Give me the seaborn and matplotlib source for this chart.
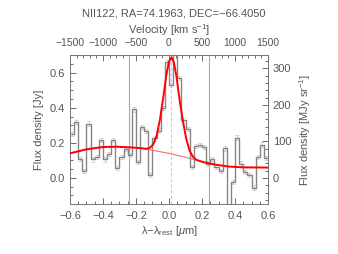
import numpy as np
import matplotlib
matplotlib.use('Agg')
import matplotlib.pyplot as plt
from matplotlib.ticker import MultipleLocator
import seaborn as sns

# spectrum: 48 bins of 0.025 um starting at -0.6 um
wave_start = -0.6
bin_width = 0.025
flux = [0.25, 0.32, 0.11, 0.04, 0.31, 0.105, 0.12, 0.215, 0.105, 0.135,
        0.215, 0.055, 0.12, 0.165, 0.13, 0.39, 0.09, 0.288, 0.268, 0.018,
        0.225, 0.27, 0.397, 0.663, 0.53, 0.76, 0.57, 0.33, 0.28, 0.063,
        0.18, 0.187, 0.175, 0.082, 0.11, 0.063, 0.04, 0.168, -0.22, -0.022,
        0.23, 0.082, 0.034, 0.015, -0.055, 0.12, 0.19, 0.115]
flux_err = [0.012] * len(flux)

# continuum fit (thin red)
cont_x = [-0.6, -0.5, -0.4, -0.32, -0.2, -0.12, 0.0, 0.1, 0.17, 0.24, 0.3, 0.36, 0.45, 0.6]
cont_y = [0.140, 0.163, 0.176, 0.178, 0.172, 0.161, 0.140, 0.118, 0.099, 0.083, 0.073, 0.065, 0.060, 0.059]

# continuum + line fit (thick red)
model_x = [-0.6, -0.5, -0.4, -0.32, -0.2, -0.135, -0.115, -0.095, -0.075, -0.055,
           -0.035, -0.015, 0.0, 0.015, 0.03, 0.045, 0.065, 0.085, 0.105, 0.125,
           0.145, 0.165, 0.2, 0.24, 0.3, 0.36, 0.45, 0.6]
model_y = [0.140, 0.163, 0.176, 0.178, 0.172, 0.166, 0.172, 0.192, 0.241, 0.331,
           0.458, 0.592, 0.663, 0.688, 0.657, 0.580, 0.439, 0.32, 0.22, 0.155,
           0.12, 0.104, 0.092, 0.083, 0.073, 0.065, 0.060, 0.059]

line_center = 0.012
window = [-0.243, 0.24]

title = 'NII122, RA=74.1963, DEC=\u221266.4050'

sns.set_style('ticks')
plt.rcParams['font.family'] = ['Liberation Sans', 'DejaVu Sans']
plt.rcParams['mathtext.fontset'] = 'custom'
plt.rcParams['mathtext.rm'] = 'Liberation Sans'
plt.rcParams['mathtext.it'] = 'Liberation Sans:italic'

txt = '#555555'
fs = 8

fig = plt.figure(figsize=(3.38, 2.54), dpi=100)
ax = fig.add_axes([0.207, 0.196, 0.586, 0.587])

edges = wave_start + bin_width * np.arange(len(flux) + 1)
centers = edges[:-1] + bin_width / 2
step_x = edges
step_y = flux + [flux[-1]]

for w in window:
    ax.axvline(w, color='#a8a8a8', lw=0.8, zorder=1)
ax.axvline(line_center, color='#cccccc', lw=0.8, ls=(0, (3, 2)), zorder=1)

ax.errorbar(centers, flux, yerr=flux_err, fmt='none', ecolor='#cfcfcf',
            elinewidth=0.6, capsize=1.2, capthick=0.6, zorder=2)
sns.lineplot(x=step_x, y=step_y, drawstyle='steps-post', color='#858585',
             lw=1.0, ax=ax, zorder=3)
sns.lineplot(x=cont_x, y=cont_y, color='#ff6a6a', lw=0.8, ax=ax, zorder=4)
sns.lineplot(x=model_x, y=model_y, color='#ff0000', lw=1.4, ax=ax, zorder=5)

ax.set_xlim(-0.6, 0.6)
ax.set_ylim(-0.15, 0.7)
ax.xaxis.set_major_locator(MultipleLocator(0.2))
ax.xaxis.set_minor_locator(MultipleLocator(0.05))
ax.yaxis.set_major_locator(MultipleLocator(0.2))
ax.yaxis.set_minor_locator(MultipleLocator(0.05))
ax.tick_params(which='both', direction='in', colors=txt, labelsize=fs, width=0.6)
ax.tick_params(which='major', length=4)
ax.tick_params(which='minor', length=2)
ax.tick_params(axis='x', pad=5)
ax.set_xlabel('\u03bb\u2212\u03bb$_{\\rm rest}$ [$\\mu$m]', color=txt, fontsize=fs, labelpad=2)
ax.set_ylabel('Flux density [Jy]', color=txt, fontsize=fs, labelpad=4)
for s in ax.spines.values():
    s.set_color('#777777')
    s.set_linewidth(0.7)

top = ax.secondary_xaxis('top', functions=(lambda x: x * 2500, lambda v: v / 2500))
top.xaxis.set_major_locator(MultipleLocator(500))
top.xaxis.set_minor_locator(MultipleLocator(100))
top.tick_params(which='both', direction='in', colors=txt, labelsize=7.5, width=0.6, pad=5)
top.tick_params(which='major', length=4)
top.tick_params(which='minor', length=2)
top.set_xlabel('Velocity [km s$^{-1}$]', color=txt, fontsize=fs, labelpad=3)

right = ax.secondary_yaxis('right', functions=(lambda y: y * 480, lambda v: v / 480))
right.yaxis.set_major_locator(MultipleLocator(100))
right.yaxis.set_minor_locator(MultipleLocator(20))
right.tick_params(which='both', direction='in', colors=txt, labelsize=fs, width=0.6)
right.tick_params(which='major', length=4)
right.tick_params(which='minor', length=2)
right.set_ylabel('Flux density [MJy sr$^{-1}$]', color=txt, fontsize=fs, labelpad=4)
for s in list(top.spines.values()) + list(right.spines.values()):
    s.set_color('#777777')
    s.set_linewidth(0.7)

fig.text(0.515, 0.948, title, ha='center', va='center', color=txt, fontsize=fs)

fig.savefig('out.png', dpi=100)
